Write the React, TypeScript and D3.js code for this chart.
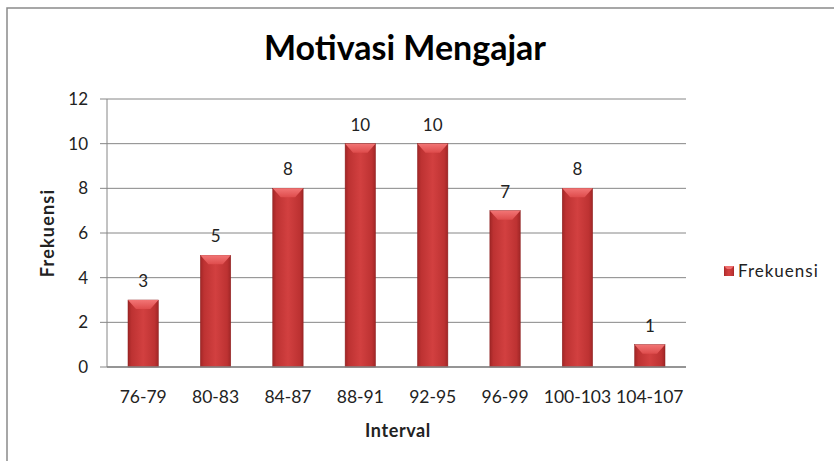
import * as d3 from 'd3'

const intervals = ['76-79', '80-83', '84-87', '88-91', '92-95', '96-99', '100-103', '104-107']
const frekuensi = [3, 5, 8, 10, 10, 7, 8, 1]
const yTicks = [0, 2, 4, 6, 8, 10, 12]

const width = 834,
      height = 461
const plot = {left: 107, right: 686, top: 99, bottom: 367}
const font = 'Lato, "Open Sans", sans-serif'

export default function App() {
  const x = d3.scaleBand<string>(intervals, [plot.left, plot.right]).paddingInner(0.58).paddingOuter(0.29)
  const y = d3.scaleLinear([0, 12], [plot.bottom, plot.top])
  const bw = x.bandwidth()

  return (
    <svg width={width} height={height} style={{position: 'absolute', left: 0, top: 0, background: '#fff'}}>
      <defs>
        <linearGradient id='barBody' x1='0' x2='1' y1='0' y2='0'>
          <stop offset='0' stopColor='#a02626' />
          <stop offset='0.12' stopColor='#bd3232' />
          <stop offset='0.5' stopColor='#d24040' />
          <stop offset='0.88' stopColor='#bd3232' />
          <stop offset='1' stopColor='#a02626' />
        </linearGradient>
        <linearGradient id='barTop' x1='0' x2='0' y1='0' y2='1'>
          <stop offset='0' stopColor='#f27575' />
          <stop offset='1' stopColor='#de4c4c' />
        </linearGradient>
      </defs>

      {/* chart border */}
      <rect x={7} y={8} width={width + 10} height={height + 10} fill='none' stroke='#8a8a8a' strokeWidth={1.5} />

      <text x={405} y={60} textAnchor='middle' fontFamily={font} fontWeight='bold' fontSize={34} fill='#000'>
        Motivasi Mengajar
      </text>

      {/* gridlines + y axis ticks */}
      {yTicks.map(t => (
        <g key={t}>
          <line x1={plot.left - 7} x2={plot.right} y1={y(t)} y2={y(t)} stroke='#868686' strokeWidth={1} />
          <text x={88} y={y(t)} dy='0.35em' textAnchor='end' fontFamily={font} fontSize={17} fill='#222'>{t}</text>
        </g>
      ))}
      <line x1={plot.left} x2={plot.left} y1={plot.top} y2={plot.bottom} stroke='#868686' />

      {/* bars */}
      {intervals.map((c, i) => {
        const x0 = x(c)!, y0 = y(frekuensi[i]), h = plot.bottom - y0
        const bev = Math.min(9, h / 2)
        return (
          <g key={c}>
            <rect x={x0} y={y0} width={bw} height={h} fill='url(#barBody)' stroke='#8c1f1f' strokeWidth={0.5} />
            <path d={`M${x0},${y0} L${x0 + bw},${y0} L${x0 + bw - 8},${y0 + bev} L${x0 + 8},${y0 + bev} Z`} fill='url(#barTop)' />
            <text x={x0 + bw / 2} y={y0 - 13} textAnchor='middle' fontFamily={font} fontSize={17} fill='#222'>{frekuensi[i]}</text>
          </g>
        )
      })}

      {/* x axis */}
      <line x1={plot.left} x2={plot.right} y1={plot.bottom} y2={plot.bottom} stroke='#868686' strokeWidth={1.5} />
      {intervals.map(c => (
        <text key={c} x={x(c)! + bw / 2} y={403} textAnchor='middle' fontFamily={font} fontSize={17.5} fill='#222'>{c}</text>
      ))}

      <text x={398} y={437} textAnchor='middle' fontFamily={font} fontWeight='bold' fontSize={18} letterSpacing={0.6} fill='#222'>Interval</text>
      <text transform={`translate(54, 233) rotate(-90)`} textAnchor='middle' fontFamily={font} fontWeight='bold' fontSize={18} letterSpacing={1.2} fill='#222'>Frekuensi</text>

      {/* legend */}
      <rect x={724} y={266} width={10} height={10} fill='url(#barBody)' />
      <path d='M724,266 L734,266 L731,269 L727,269 Z' fill='#f07070' />
      <text x={738} y={271} dy='0.35em' fontFamily={font} fontSize={17} letterSpacing={1} fill='#222'>Frekuensi</text>
    </svg>
  )
}
